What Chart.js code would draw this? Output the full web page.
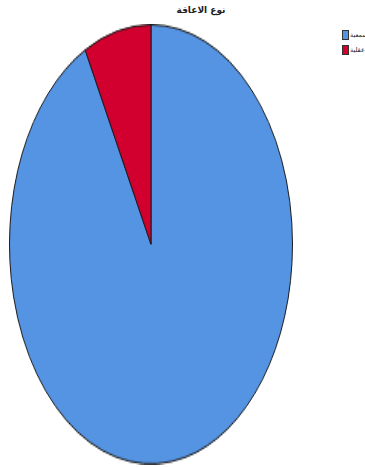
<!DOCTYPE html>
<html><head><meta charset="utf-8">
<script src="https://cdn.jsdelivr.net/npm/chart.js@4/dist/chart.umd.min.js"></script>
<style>
html,body{margin:0;padding:0;background:#fff;width:365px;height:467px;overflow:hidden;font-family:"DejaVu Sans",sans-serif;}
#wrap{position:absolute;left:9px;top:24px;width:284px;height:284px;transform:scale(1,1.5514);transform-origin:0 0;}
#title{position:absolute;left:170px;top:5px;width:62px;text-align:center;font-size:9px;font-weight:bold;color:#222;direction:rtl;}
#legend{position:absolute;left:342px;top:27px;font-size:6.5px;color:#222;}
.item{display:flex;align-items:center;height:15px;}
.sw{width:7px;height:10px;border:1px solid #333;margin-right:1px;box-sizing:border-box;flex:none;}
.lbl{white-space:nowrap;}
</style></head>
<body>
<div id="title"></div>
<div id="wrap"><canvas id="c" width="284" height="284"></canvas></div>
<div id="legend"></div>
<script>
const titleText = "نوع الاعاقة";
const categories = ["سمعية", "عقلية"];
const values = [92.3, 7.7];
const colors = ["#5594E2", "#D2002F"];

document.getElementById('title').textContent = titleText;
const lg = document.getElementById('legend');
categories.forEach((c,i)=>{
  const d=document.createElement('div');d.className='item';
  const s=document.createElement('span');s.className='sw';s.style.background=colors[i];
  const t=document.createElement('span');t.className='lbl';t.textContent=c;
  d.appendChild(s);d.appendChild(t);lg.appendChild(d);
});

new Chart(document.getElementById('c'), {
  type: 'pie',
  data: { labels: categories, datasets: [{ data: values, backgroundColor: colors, borderColor: '#1a1a1a', borderWidth: 1 }] },
  options: {
    responsive: false, animation: false,
    layout: { padding: 0 },
    plugins: { legend: { display: false }, tooltip: { enabled: false }, title: { display: false } }
  }
});
</script>
</body></html>
